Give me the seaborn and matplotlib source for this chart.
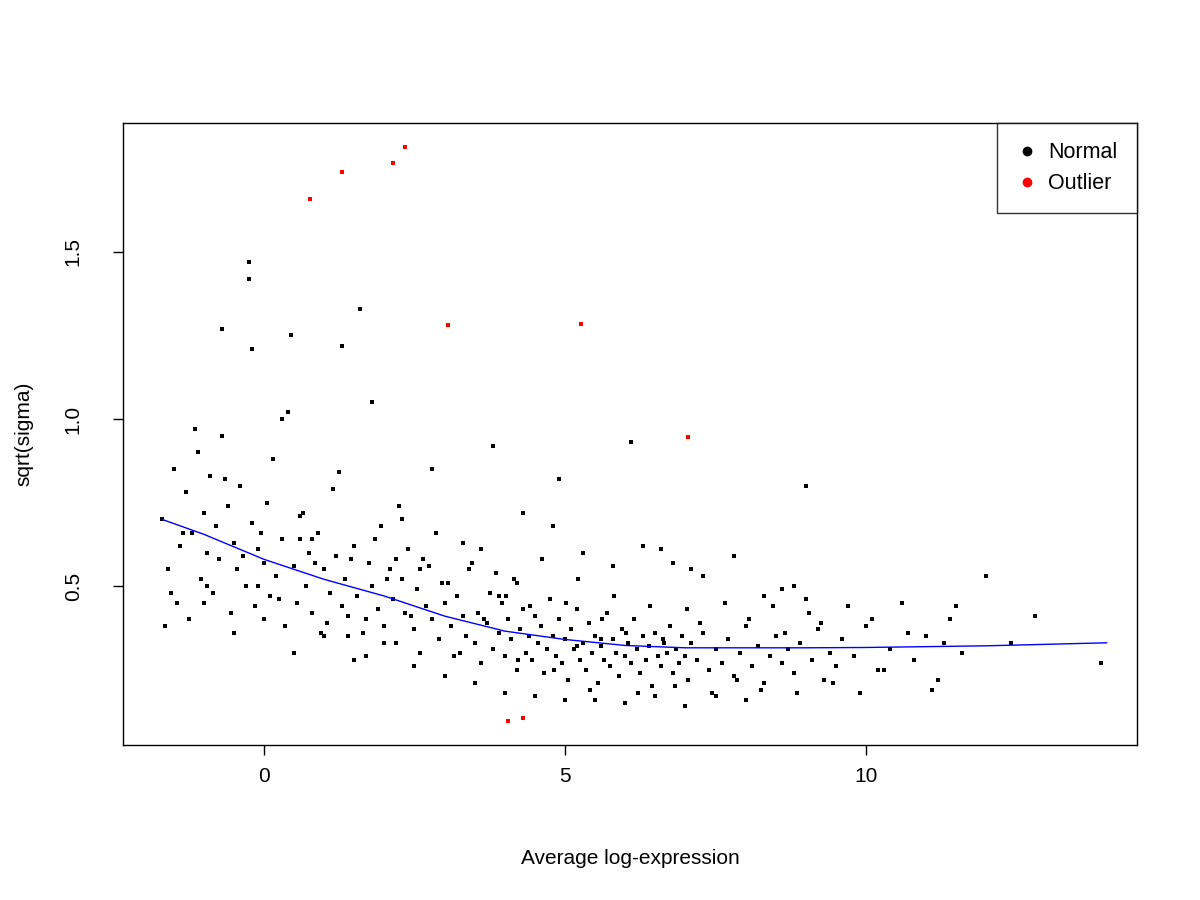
import matplotlib
matplotlib.use("Agg")
import matplotlib.pyplot as plt
import seaborn as sns
from matplotlib.lines import Line2D

# normal genes (a hand-read sample of the cloud), as x/y columns
normal_x = [-1.7,-1.6,-1.5,-1.45,-1.4,-1.3,-1.25,-1.2,-1.1,-1.05,-1.0,-0.95,-0.9,-0.85,-0.8,-0.75,-0.7,-0.6,-0.55,-0.5,
            -0.45,-0.4,-0.3,-0.25,-0.2,-0.15,-0.1,0.0,0.05,0.1,0.15,0.2,0.3,0.35,0.4,0.5,0.55,0.6,0.7,0.75,
            0.8,0.9,0.95,1.0,1.1,1.15,1.2,1.3,1.35,1.4,1.5,1.55,1.6,1.7,1.75,1.8,1.9,1.95,2.0,2.1,
            2.15,2.2,2.3,2.35,2.4,2.5,2.55,2.6,2.7,2.75,2.8,2.9,2.95,3.0,3.1,3.15,3.2,3.3,3.35,3.4,
            3.5,3.55,3.6,3.7,3.75,3.8,3.9,3.95,4.0,4.05,4.1,4.15,4.2,4.25,4.3,4.35,4.4,4.45,4.5,4.55,
            4.6,4.65,4.7,4.75,4.8,4.85,4.9,4.95,5.0,5.05,5.1,5.15,5.2,5.25,5.3,5.35,5.4,5.45,5.5,5.55,
            5.6,5.65,5.7,5.75,5.8,5.85,5.9,5.95,6.0,6.05,6.1,6.15,6.2,6.25,6.3,6.35,6.4,6.45,6.5,6.55,
            6.6,6.65,6.7,6.75,6.8,6.85,6.9,6.95,7.0,7.05,7.1,7.2,7.3,7.4,7.5,7.6,7.7,7.8,7.9,8.0,
            8.1,8.2,8.3,8.4,8.5,8.6,8.7,8.8,8.9,9.0,9.1,9.2,9.3,9.4,9.5,9.6,9.8,10.0,10.2,10.4,
            10.6,10.8,11.0,11.2,11.4,11.6,12.0,12.4,12.8,13.9,
            -1.65,-1.35,-1.15,-0.95,-0.65,-0.35,-0.05,0.25,0.45,0.65,0.85,1.05,1.25,1.45,1.65,1.85,2.05,2.25,2.45,2.65,
            2.85,3.05,3.25,3.45,3.65,3.85,4.02,4.22,4.42,4.62,4.82,5.02,5.22,5.42,5.62,5.82,6.02,6.22,6.42,6.62,
            6.82,7.02,7.25,7.45,7.65,7.85,8.05,8.25,8.45,8.65,8.85,9.05,9.25,9.45,9.7,9.9,10.3,10.7,11.1,11.5,
            -0.7,-0.2,0.3,0.8,1.3,1.8,2.3,2.8,3.3,3.8,4.3,4.8,5.3,5.8,6.3,6.8,7.3,7.8,8.3,8.8,
            -1.55,-1.0,-0.5,0.0,0.5,1.0,1.5,2.0,2.5,3.0,3.5,4.0,4.5,5.0,5.5,6.0,6.5,7.0,7.5,8.0,
            -0.25,-0.1,0.6,1.4,1.7,2.2,2.6,3.6,3.9,4.2,4.9,5.2,5.6,6.1,6.6,7.1,8.6,9.0,10.1,11.3]
normal_y = [0.70,0.55,0.85,0.45,0.62,0.78,0.40,0.66,0.90,0.52,0.72,0.60,0.83,0.48,0.68,0.58,0.95,0.74,0.42,0.63,
            0.55,0.80,0.50,1.47,0.69,0.44,0.61,0.57,0.75,0.47,0.88,0.53,0.64,0.38,1.02,0.56,0.45,0.71,0.50,0.60,
            0.42,0.66,0.36,0.55,0.48,0.79,0.59,0.44,0.52,0.35,0.62,0.47,1.33,0.40,0.57,0.50,0.43,0.68,0.38,0.55,
            0.46,0.33,0.52,0.42,0.61,0.37,0.49,0.30,0.44,0.56,0.40,0.34,0.51,0.45,0.38,0.29,0.47,0.41,0.35,0.55,
            0.33,0.42,0.27,0.39,0.48,0.31,0.36,0.45,0.29,0.40,0.34,0.52,0.25,0.37,0.43,0.30,0.35,0.28,0.41,0.33,
            0.38,0.24,0.31,0.46,0.35,0.29,0.40,0.27,0.34,0.22,0.37,0.31,0.43,0.28,0.33,0.25,0.39,0.30,0.35,0.21,
            0.32,0.28,0.42,0.26,0.34,0.30,0.23,0.37,0.29,0.33,0.27,0.40,0.31,0.24,0.35,0.28,0.32,0.20,0.36,0.29,
            0.26,0.33,0.30,0.38,0.24,0.31,0.27,0.35,0.29,0.22,0.33,0.28,0.36,0.25,0.31,0.27,0.34,0.23,0.30,0.38,
            0.26,0.32,0.21,0.29,0.35,0.27,0.31,0.24,0.33,0.80,0.28,0.37,0.22,0.30,0.26,0.34,0.29,0.38,0.25,0.31,
            0.45,0.28,0.35,0.22,0.40,0.30,0.53,0.33,0.41,0.27,
            0.38,0.66,0.97,0.50,0.82,0.59,0.66,0.46,1.25,0.72,0.57,0.39,0.84,0.58,0.36,0.64,0.52,0.74,0.41,0.58,
            0.66,0.51,0.30,0.57,0.40,0.54,0.47,0.28,0.44,0.58,0.25,0.45,0.52,0.19,0.40,0.47,0.36,0.18,0.44,0.34,
            0.20,0.43,0.39,0.18,0.45,0.22,0.40,0.19,0.44,0.36,0.18,0.42,0.39,0.21,0.44,0.18,0.25,0.36,0.19,0.44,
            1.27,1.21,1.00,0.64,1.22,1.05,0.70,0.85,0.63,0.92,0.72,0.68,0.60,0.56,0.62,0.57,0.53,0.59,0.47,0.50,
            0.48,0.45,0.36,0.40,0.30,0.35,0.28,0.33,0.26,0.23,0.21,0.18,0.17,0.16,0.16,0.15,0.17,0.14,0.17,0.16,
            1.42,0.50,0.64,0.41,0.29,0.58,0.55,0.61,0.47,0.51,0.82,0.32,0.34,0.93,0.61,0.55,0.49,0.46,0.40,0.33]

# outliers
outlier_x = [0.77, 1.3, 2.15, 2.35, 3.05, 5.27, 7.05, 4.05, 4.3]
outlier_y = [1.66, 1.74, 1.765, 1.815, 1.28, 1.285, 0.945, 0.095, 0.105]

# lowess trend
trend_x = [-1.7, -1.0, 0, 1, 2, 3, 4, 5, 6, 7, 8, 9, 10, 12, 14]
trend_y = [0.70, 0.655, 0.58, 0.52, 0.47, 0.41, 0.365, 0.34, 0.322, 0.315, 0.315, 0.315, 0.316, 0.321, 0.33]

sns.set_style("white")
plt.rcParams['font.family'] = ['Liberation Sans', 'DejaVu Sans']
plt.rcParams['text.color'] = 'black'
plt.rcParams['axes.labelcolor'] = 'black'
plt.rcParams['xtick.color'] = 'black'
plt.rcParams['ytick.color'] = 'black'

fig = plt.figure(figsize=(12, 9), dpi=100)
ax = fig.add_axes([0.1025, 0.1722, 0.845, 0.6911])

sns.scatterplot(x=normal_x, y=normal_y, color='black', s=5, marker='s', linewidth=0, ax=ax)
sns.scatterplot(x=outlier_x, y=outlier_y, color='red', s=5, marker='s', linewidth=0, ax=ax)
sns.lineplot(x=trend_x, y=trend_y, color='blue', linewidth=1, ax=ax)

ax.set_xlim(-2.34, 14.5)
ax.set_ylim(0.024, 1.886)
ax.set_xticks([0, 5, 10])
ax.set_yticks([0.5, 1.0, 1.5])
ax.set_yticklabels(['0.5', '1.0', '1.5'], rotation=90, va='center')
ax.tick_params(axis='both', labelsize=15, length=7, direction='out', bottom=True, left=True, width=1)
ax.tick_params(axis='x', pad=9)
ax.tick_params(axis='y', pad=22)
for s in ax.spines.values():
    s.set_color('black')
    s.set_linewidth(1)
ax.set_xlabel('Average log-expression', fontsize=15, labelpad=45)
ax.set_ylabel('sqrt(sigma)', fontsize=15, labelpad=22)

handles = [Line2D([], [], marker='o', color='black', linestyle='', markersize=6),
           Line2D([], [], marker='o', color='red', linestyle='', markersize=6)]
leg = ax.legend(handles, ['Normal', 'Outlier'], loc='upper right', fontsize=15.5, frameon=True,
                fancybox=False, borderaxespad=0, handlelength=1.0, handletextpad=0.5,
                borderpad=0.9, labelspacing=0.45)
leg.get_frame().set_edgecolor('black')
leg.get_frame().set_linewidth(1)

fig.savefig('out.png', dpi=100)
